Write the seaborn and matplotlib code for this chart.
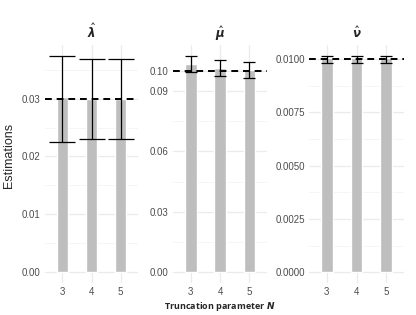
import numpy as np
import pandas as pd
import matplotlib
matplotlib.use("Agg")
import matplotlib.pyplot as plt
import seaborn as sns

# Truncation levels
truncation = ["3", "4", "5"]

# Estimates, lower / upper bounds and true values per parameter
lambda_est = [0.0303, 0.0299, 0.0299]
lambda_low = [0.0225, 0.0230, 0.0230]
lambda_high = [0.0374, 0.0368, 0.0368]
lambda_true = 0.03

mu_est = [0.1036, 0.1016, 0.1003]
mu_low = [0.0994, 0.0975, 0.0966]
mu_high = [0.1075, 0.1054, 0.1043]
mu_true = 0.10

nu_est = [0.01003, 0.01003, 0.01003]
nu_low = [0.00982, 0.00982, 0.00982]
nu_high = [0.01015, 0.01015, 0.01015]
nu_true = 0.01

titles = [r"$\hat{\mathbfit{\lambda}}$", r"$\hat{\mathbfit{\mu}}$", r"$\hat{\mathbfit{\nu}}$"]
yticks = [
    [0.00, 0.01, 0.02, 0.03],
    [0.00, 0.03, 0.06, 0.09, 0.10],
    [0.0000, 0.0025, 0.0050, 0.0075, 0.0100],
]
yfmt = ["{:.2f}", "{:.2f}", "{:.4f}"]
minor_ticks = [
    [0.005, 0.015, 0.025, 0.035],
    [0.015, 0.045, 0.075],
    [0.00125, 0.00375, 0.00625, 0.00875],
]
cap_sizes = [9.5, 4.3, 4.0]

sns.set_style("white")
plt.rcParams["font.family"] = ["Liberation Sans", "DejaVu Sans"]
plt.rcParams["mathtext.fontset"] = "dejavusans"

fig = plt.figure(figsize=(4.16, 3.15), dpi=100)
lefts = [45, 173, 309]
widths = [93, 94, 95]
axes = [fig.add_axes([l / 416, 1 - 283 / 315, w / 416, 238 / 315]) for l, w in zip(lefts, widths)]

panels = [
    (lambda_est, lambda_low, lambda_high, lambda_true),
    (mu_est, mu_low, mu_high, mu_true),
    (nu_est, nu_low, nu_high, nu_true),
]

grid_col = "#EBEBEB"
for i, (ax, (est, low, high, true)) in enumerate(zip(axes, panels)):
    df = pd.DataFrame({"N": truncation, "est": est, "low": low, "high": high})
    sns.barplot(data=df, x="N", y="est", color="#BEBEBE", width=0.4,
                saturation=1, ax=ax, zorder=2)
    x = np.arange(len(truncation))
    est_a = np.array(est)
    ax.errorbar(x, est_a, yerr=[est_a - np.array(low), np.array(high) - est_a],
                fmt="none", ecolor="black", elinewidth=0.9, capsize=cap_sizes[i],
                capthick=0.9, zorder=4)
    ax.axhline(true, color="black", linestyle=(0, (3.5, 2.5)), linewidth=1.4, zorder=5)

    top = max(high)
    ax.set_ylim(-0.05 * top, 1.05 * top)
    ax.set_xlim(-0.6, 2.6)
    ax.set_yticks(yticks[i])
    ax.set_yticklabels([yfmt[i].format(v) for v in yticks[i]])
    ax.set_yticks(minor_ticks[i], minor=True)
    ax.grid(True, which="major", color=grid_col, linewidth=0.9, zorder=0)
    ax.grid(True, which="minor", axis="y", color="#F4F4F4", linewidth=0.6, zorder=0)
    ax.set_axisbelow(True)
    for s in ax.spines.values():
        s.set_visible(False)
    ax.tick_params(axis="both", which="both", length=0, labelsize=7,
                   labelcolor="#4D4D4D", pad=3)
    ax.set_title(titles[i], fontsize=8.5, pad=5)
    ax.set_xlabel("")
    ax.set_ylabel("")

axes[0].set_ylabel("Estimations", fontsize=9)
axes[0].yaxis.set_label_coords(-0.32, 0.534)
axes[1].set_xlabel(r"Truncation parameter $\mathbfit{N}$", fontsize=6.5,
                   fontweight="bold", family=["Open Sans", "DejaVu Sans"], labelpad=2)

fig.savefig("out.png", dpi=100)
